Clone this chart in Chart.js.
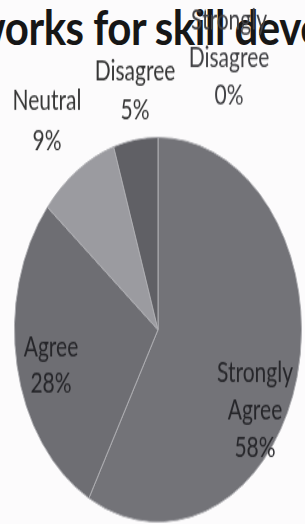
<!DOCTYPE html>
<html>
<head>
<meta charset="utf-8">
<script src="https://cdn.jsdelivr.net/npm/chart.js@4.4.1/dist/chart.umd.min.js"></script>
<style>
  html, body { margin: 0; padding: 0; background: #fcfbfc; overflow: hidden; }
  #wrap { position: relative; width: 305px; height: 524px; overflow: hidden; }
  #titulo {
    position: absolute; left: -28px; top: 2px;
    font: bold 42px Lato, sans-serif; line-height: 42px; letter-spacing: -0.5px;
    color: #161616; white-space: nowrap;
    transform: scaleY(1.15); transform-origin: 0 0;
  }
  #myChart { position: absolute; left: 0; top: 0; width: 305px; height: 524px; }
</style>
</head>
<body>
<div id="wrap">
  <div id="titulo">works for skill development</div>
  <canvas id="myChart" width="305" height="391" style="width:305px;height:524px"></canvas>
</div>
<script>
// datos del grafico
const categorias = ['Strongly Agree', 'Agree', 'Neutral', 'Disagree', 'Strongly Disagree'];
const valores = [58, 28, 9, 5, 0];
const etiquetas = [['Strongly', 'Agree', '58%'], ['Agree', '28%'], ['Neutral', '9%'], ['Disagree', '5%'], ['Strongly', 'Disagree', '0%']];

const colores = ['#737378', '#6e6e73', '#9b9ba0', '#606065', '#8a8a8e'];
// donde va cada etiqueta (centro de la primera linea, alto de linea, color)
const posEtiquetas = [
  { x: 255, y: 278, lh: 28, color: '#26262a' },
  { x: 51, y: 259, lh: 27, color: '#26262a' },
  { x: 47, y: 75, lh: 30, color: '#363636' },
  { x: 135, y: 53, lh: 29, color: '#363636' },
  { x: 229, y: 15, lh: 28, color: '#404044' }
];

// plugin para dibujar las etiquetas
const etiquetasPlugin = {
  id: 'etiquetas',
  afterDatasetsDraw(chart) {
    const ctx = chart.ctx;
    ctx.save();
    ctx.font = '21px Lato, sans-serif';
    ctx.textAlign = 'center';
    ctx.textBaseline = 'middle';
    etiquetas.forEach((lineas, i) => {
      const p = posEtiquetas[i];
      ctx.fillStyle = p.color;
      lineas.forEach((t, j) => ctx.fillText(t, p.x, p.y + j * p.lh));
    });
    ctx.restore();
  }
};

function grafico_pie() {
  const ctx = document.getElementById('myChart');
  new Chart(ctx, {
    type: 'pie',
    data: {
      labels: categorias,
      datasets: [{
        data: valores,
        backgroundColor: colores,
        borderColor: '#aeaeb2',
        borderWidth: 1
      }]
    },
    options: {
      responsive: false,
      animation: false,
      layout: { padding: { left: 14, right: 3, top: 102, bottom: 1 } },
      plugins: {
        legend: { display: false },
        tooltip: { enabled: false },
        title: { display: false }
      }
    },
    plugins: [etiquetasPlugin]
  });
}

grafico_pie()
</script>
</body>
</html>
